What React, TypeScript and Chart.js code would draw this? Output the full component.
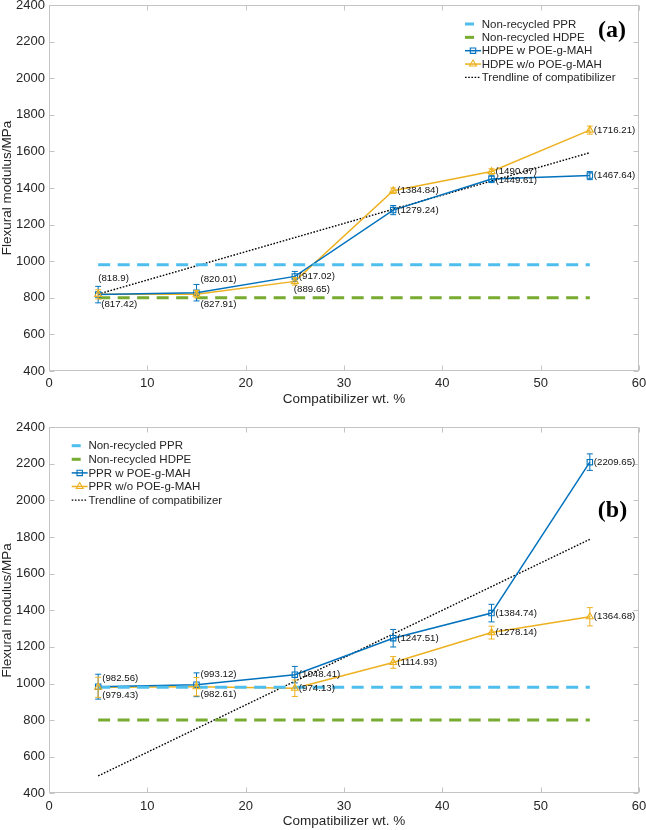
import React, { useEffect, useRef } from 'react';
import { Chart, registerables } from 'chart.js';

Chart.register(...registerables);

// ---------------- data ----------------
const compatibilizer = [5, 15, 25, 35, 45, 55];
const baselineX = [5, 55];
const trendX = [5, 55];
const pprBaseline = [980, 980];
const hdpeBaseline = [800, 800];

// panel (a)
const hdpeWith = [817.42, 827.91, 917.02, 1279.24, 1449.61, 1467.64];
const hdpeWithErr = [45, 45, 27, 25, 20, 22];
const hdpeWithout = [818.9, 820.01, 889.65, 1384.84, 1490.07, 1716.21];
const hdpeWithoutErr = [25, 20, 20, 15, 15, 22];
const trendA = [820, 1593];

// panel (b)
const pprWith = [982.56, 993.12, 1048.41, 1247.51, 1384.74, 2209.65];
const pprWithErr = [68, 65, 45, 48, 48, 45];
const pprWithout = [979.43, 982.61, 974.13, 1114.93, 1278.14, 1364.68];
const pprWithoutErr = [55, 50, 45, 32, 35, 50];
const trendB = [495, 1788];

const xRange = [0, 60];
const xStep = 10;
const yRange = [400, 2400];
const yStep = 200;

// ---------------- styles ----------------
const FONT = "'Liberation Sans', Arial, Helvetica, sans-serif";
const SERIF = "'Liberation Serif', 'Times New Roman', serif";
const TEXT = '#262626';
const LIGHT_BLUE = '#4DBEEE';
const GREEN = '#77AC30';
const BLUE = '#0072BD';
const YELLOW = '#EDB120';

type Kind = 'dash' | 'square' | 'triangle' | 'dotted';
interface Series {
  label: string;
  xs: number[];
  ys: number[];
  color: string;
  kind: Kind;
  errors?: number[];
  showValues?: boolean;
  labelOffsets?: number[][];
}
interface Panel {
  tag: string;
  tagPos: number[];
  legendPos: number[];
  legendStep: number;
  height: number;
  padTop: number;
  xAxisHeight: number;
  xTitlePad: number;
  series: Series[];
}

const panelA: Panel = {
  tag: '(a)',
  tagPos: [612, 31],
  legendPos: [465, 24],
  legendStep: 13.35,
  height: 415,
  padTop: 5,
  xAxisHeight: 44,
  xTitlePad: 8.75,
  series: [
    { label: 'Non-recycled PPR', xs: baselineX, ys: pprBaseline, color: LIGHT_BLUE, kind: 'dash' },
    { label: 'Non-recycled HDPE', xs: baselineX, ys: hdpeBaseline, color: GREEN, kind: 'dash' },
    {
      label: 'HDPE w POE-g-MAH', xs: compatibilizer, ys: hdpeWith, color: BLUE, kind: 'square',
      errors: hdpeWithErr, showValues: true,
      labelOffsets: [[3, 10], [4, 12], [4, 0], [4, 0], [4, 1], [4, 0]],
    },
    {
      label: 'HDPE w/o POE-g-MAH', xs: compatibilizer, ys: hdpeWithout, color: YELLOW, kind: 'triangle',
      errors: hdpeWithoutErr, showValues: true,
      labelOffsets: [[0, -16], [4, -15], [-1, 8], [4, 0], [4, 0], [4, 0]],
    },
    { label: 'Trendline of compatibilizer', xs: trendX, ys: trendA, color: '#000000', kind: 'dotted' },
  ],
};

const panelB: Panel = {
  tag: '(b)',
  tagPos: [612.5, 96],
  legendPos: [71.7, 30.7],
  legendStep: 13.6,
  height: 415,
  padTop: 12.3,
  xAxisHeight: 36.7,
  xTitlePad: 1.6,
  series: [
    { label: 'Non-recycled PPR', xs: baselineX, ys: pprBaseline, color: LIGHT_BLUE, kind: 'dash' },
    { label: 'Non-recycled HDPE', xs: baselineX, ys: hdpeBaseline, color: GREEN, kind: 'dash' },
    {
      label: 'PPR w POE-g-MAH', xs: compatibilizer, ys: pprWith, color: BLUE, kind: 'square',
      errors: pprWithErr, showValues: true,
      labelOffsets: [[4, -8], [4, -10], [4, 0], [4, 0], [4, 0], [4, 0]],
    },
    {
      label: 'PPR w/o POE-g-MAH', xs: compatibilizer, ys: pprWithout, color: YELLOW, kind: 'triangle',
      errors: pprWithoutErr, showValues: true,
      labelOffsets: [[4, 8], [4, 8], [4, 0], [4, 0], [4, 0], [4, 0]],
    },
    { label: 'Trendline of compatibilizer', xs: trendX, ys: trendB, color: '#000000', kind: 'dotted' },
  ],
};

// ---------------- drawing helpers ----------------
function drawMarker(ctx: CanvasRenderingContext2D, kind: Kind, x: number, y: number, color: string) {
  ctx.save();
  ctx.strokeStyle = color;
  ctx.lineWidth = 1.1;
  ctx.setLineDash([]);
  ctx.beginPath();
  if (kind === 'square') {
    const h = 2.7;
    ctx.rect(x - h, y - h, 2 * h, 2 * h);
  } else if (kind === 'triangle') {
    const r = 4;
    let rad = 0;
    ctx.moveTo(x + Math.sin(rad) * r, y - Math.cos(rad) * r);
    rad += (2 * Math.PI) / 3;
    ctx.lineTo(x + Math.sin(rad) * r, y - Math.cos(rad) * r);
    rad += (2 * Math.PI) / 3;
    ctx.lineTo(x + Math.sin(rad) * r, y - Math.cos(rad) * r);
    ctx.closePath();
  }
  ctx.stroke();
  ctx.restore();
}

function makeOverlay(panel: Panel) {
  return {
    id: 'overlay' + panel.tag,
    afterDatasetsDraw(chart: any) {
      const ctx: CanvasRenderingContext2D = chart.ctx;
      const a = chart.chartArea;
      const xs = chart.scales.x;
      const ys = chart.scales.y;

      // frame with inward ticks
      ctx.save();
      ctx.strokeStyle = '#c4c4c4';
      ctx.lineWidth = 1;
      const L = Math.round(a.left) + 0.5;
      const R = Math.round(a.right) - 0.5;
      const T = Math.round(a.top) + 0.5;
      const B = Math.round(a.bottom) - 0.5;
      ctx.strokeRect(L, T, R - L, B - T);
      ctx.beginPath();
      xs.ticks.forEach((t: any) => {
        const px = Math.round(xs.getPixelForValue(t.value)) + 0.5;
        ctx.moveTo(px, B); ctx.lineTo(px, B - 5);
        ctx.moveTo(px, T); ctx.lineTo(px, T + 5);
      });
      ys.ticks.forEach((t: any) => {
        const py = Math.round(ys.getPixelForValue(t.value)) + 0.5;
        ctx.moveTo(L, py); ctx.lineTo(L + 5, py);
        ctx.moveTo(R, py); ctx.lineTo(R - 5, py);
      });
      ctx.stroke();
      ctx.restore();

      // error bars + markers + value labels
      panel.series.forEach((s, di) => {
        const meta = chart.getDatasetMeta(di);
        if (s.errors) {
          ctx.save();
          ctx.strokeStyle = s.color;
          ctx.lineWidth = 1;
          ctx.beginPath();
          s.ys.forEach((v, i) => {
            const px = meta.data[i].x;
            const y1 = ys.getPixelForValue(v + s.errors![i]);
            const y2 = ys.getPixelForValue(v - s.errors![i]);
            ctx.moveTo(px, y1); ctx.lineTo(px, y2);
            ctx.moveTo(px - 3, y1); ctx.lineTo(px + 3, y1);
            ctx.moveTo(px - 3, y2); ctx.lineTo(px + 3, y2);
          });
          ctx.stroke();
          ctx.restore();
        }
        if (s.kind === 'square' || s.kind === 'triangle') {
          s.ys.forEach((_v, i) => drawMarker(ctx, s.kind, meta.data[i].x, meta.data[i].y, s.color));
        }
      });
      panel.series.forEach((s, di) => {
        if (!s.showValues) return;
        const meta = chart.getDatasetMeta(di);
        ctx.save();
        ctx.font = `9.7px ${FONT}`;
        ctx.fillStyle = '#111111';
        ctx.textAlign = 'left';
        ctx.textBaseline = 'middle';
        s.ys.forEach((v, i) => {
          const off = s.labelOffsets ? s.labelOffsets[i] : [4, 0];
          ctx.fillText(`(${v})`, meta.data[i].x + off[0], meta.data[i].y + off[1]);
        });
        ctx.restore();
      });
    },
    afterDraw(chart: any) {
      const ctx: CanvasRenderingContext2D = chart.ctx;
      // legend
      const [lx, ly] = panel.legendPos;
      ctx.save();
      panel.series.forEach((s, i) => {
        const y = ly + i * panel.legendStep;
        ctx.strokeStyle = s.color;
        if (s.kind === 'dash') {
          ctx.lineWidth = 3;
          ctx.setLineDash([]);
          ctx.beginPath(); ctx.moveTo(lx, y); ctx.lineTo(lx + 9, y); ctx.stroke();
        } else if (s.kind === 'dotted') {
          ctx.lineWidth = 1.3;
          ctx.setLineDash([1.6, 1.6]);
          ctx.beginPath(); ctx.moveTo(lx, y); ctx.lineTo(lx + 15, y); ctx.stroke();
          ctx.setLineDash([]);
        } else {
          ctx.lineWidth = 1.5;
          ctx.setLineDash([]);
          ctx.beginPath(); ctx.moveTo(lx, y); ctx.lineTo(lx + 16, y); ctx.stroke();
          drawMarker(ctx, s.kind, lx + 8, y, s.color);
        }
        ctx.font = `11.5px ${FONT}`;
        ctx.fillStyle = TEXT;
        ctx.textAlign = 'left';
        ctx.textBaseline = 'middle';
        ctx.fillText(s.label, lx + 16.7, y + 0.5);
      });
      // panel tag
      ctx.font = `bold 24px ${SERIF}`;
      ctx.fillStyle = '#000000';
      ctx.textAlign = 'center';
      ctx.textBaseline = 'middle';
      ctx.fillText(panel.tag, panel.tagPos[0], panel.tagPos[1]);
      ctx.restore();
    },
  };
}

function makeConfig(panel: Panel): any {
  const datasets = panel.series.map((s, i) => {
    const base: any = {
      label: s.label,
      data: s.xs.map((x, j) => ({ x, y: s.ys[j] })),
      borderColor: s.color,
      backgroundColor: s.color,
      pointRadius: 0,
      pointHoverRadius: 0,
      fill: false,
      tension: 0,
      order: i,
    };
    if (s.kind === 'dash') {
      base.borderWidth = 3;
      base.borderDash = [12, 7.5];
    } else if (s.kind === 'dotted') {
      base.borderWidth = 1.4;
      base.borderDash = [1.6, 1.6];
    } else {
      base.borderWidth = 1.5;
    }
    return base;
  });
  return {
    type: 'line',
    data: { datasets },
    options: {
      responsive: false,
      animation: false,
      devicePixelRatio: 1,
      layout: { padding: { top: panel.padTop, right: 7, left: 0, bottom: 0 } },
      plugins: { legend: { display: false }, tooltip: { enabled: false } },
      events: [],
      scales: {
        x: {
          type: 'linear',
          min: xRange[0],
          max: xRange[1],
          grid: { display: false, drawTicks: false },
          border: { display: false },
          ticks: {
            stepSize: xStep, color: TEXT, font: { family: FONT, size: 13 }, padding: 5, maxRotation: 0,
            callback: (v: any) => String(v),
          },
          title: {
            display: true,
            text: 'Compatibilizer wt. %',
            color: TEXT,
            font: { family: FONT, size: 13.5, lineHeight: 1 },
            padding: { top: 0, bottom: panel.xTitlePad },
          },
          afterFit(scale: any) {
            scale.height = panel.xAxisHeight;
            scale.paddingLeft = 0;
            scale.paddingRight = 0;
          },
        },
        y: {
          type: 'linear',
          min: yRange[0],
          max: yRange[1],
          grid: { display: false, drawTicks: false },
          border: { display: false },
          ticks: {
            stepSize: yStep, color: TEXT, font: { family: FONT, size: 13 }, padding: 4,
            callback: (v: any) => String(v),
          },
          title: {
            display: true,
            text: 'Flexural modulus/MPa',
            color: TEXT,
            font: { family: FONT, size: 13.5, lineHeight: 1 },
            padding: { top: 0.8, bottom: 0 },
          },
          afterFit(scale: any) {
            scale.width = 49;
            scale.paddingTop = 0;
            scale.paddingBottom = 0;
          },
        },
      },
    },
    plugins: [makeOverlay(panel)],
  };
}

function PanelChart({ panel }: { panel: Panel }) {
  const ref = useRef<HTMLCanvasElement | null>(null);
  useEffect(() => {
    if (!ref.current) return;
    const chart = new Chart(ref.current, makeConfig(panel));
    return () => chart.destroy();
  }, [panel]);
  return <canvas ref={ref} width={646} height={panel.height} style={{ display: 'block', width: 646, height: panel.height }} />;
}

export default function App() {
  return (
    <div style={{ position: 'absolute', left: 0, top: 0, width: 646, height: 830, background: '#ffffff' }}>
      <PanelChart panel={panelA} />
      <PanelChart panel={panelB} />
    </div>
  );
}
